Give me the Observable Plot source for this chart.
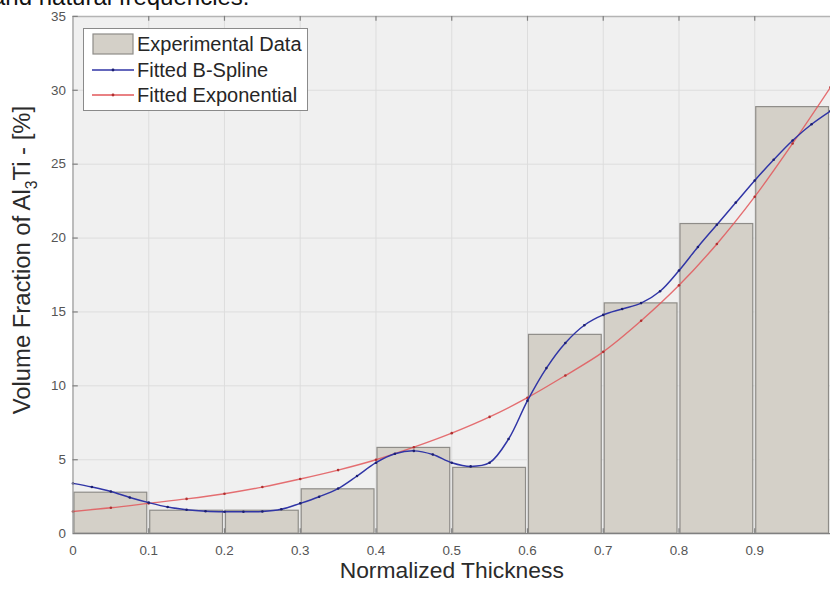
<!DOCTYPE html>
<html>
<head>
<meta charset="utf-8">
<script src="https://cdn.jsdelivr.net/npm/d3@7"></script>
<script src="https://cdn.jsdelivr.net/npm/@observablehq/plot@0.6"></script>
<style>
  html, body { margin: 0; padding: 0; background: #fff; overflow: hidden; }
  #wrap { position: relative; width: 830px; height: 589px; overflow: hidden; font-family: "Liberation Sans", Arial, sans-serif; }
  #toptext { position: absolute; left: -8px; top: -17px; font-size: 24px; color: #111; white-space: nowrap; z-index: 2; }
  #legend { position: absolute; left: 83px; top: 28px; width: 223px; height: 81px; background: #fff; border: 1px solid #8a8a8a; font-size: 20px; color: #262626; z-index: 3; }
  #legend .row { position: absolute; left: 0; height: 24px; width: 100%; }
  #legend .sw { position: absolute; left: 8px; top: 0; width: 42px; height: 24px; }
  #legend .lab { position: absolute; left: 53px; top: 0; line-height: 24px; white-space: nowrap; }
  #chart { position: absolute; left: 0; top: 0; }
</style>
</head>
<body>
<div id="wrap">
  <div id="toptext">and natural frequencies.</div>
  <div id="chart"></div>
  <div id="legend"></div>
</div>
<script>
// ---- data ----
const binStart = [0, 0.1, 0.2, 0.3, 0.4, 0.5, 0.6, 0.7, 0.8, 0.9];
const binEnd   = [0.1, 0.2, 0.3, 0.4, 0.5, 0.6, 0.7, 0.8, 0.9, 1.0];
const binValue = [2.77, 1.55, 1.55, 3.0, 5.8, 4.45, 13.45, 15.58, 20.95, 28.86];

const splineX = [0, 0.025, 0.05, 0.075, 0.1, 0.125, 0.15, 0.175, 0.2, 0.225, 0.25, 0.275, 0.3, 0.325, 0.35, 0.375, 0.4, 0.425, 0.45, 0.475, 0.5, 0.525, 0.55, 0.575, 0.6, 0.625, 0.65, 0.675, 0.7, 0.725, 0.75, 0.775, 0.8, 0.825, 0.85, 0.875, 0.9, 0.925, 0.95, 0.975, 1.0];
const splineY = [3.4, 3.15, 2.85, 2.45, 2.1, 1.8, 1.62, 1.52, 1.48, 1.48, 1.5, 1.65, 2.05, 2.5, 3.05, 3.9, 4.8, 5.4, 5.6, 5.35, 4.8, 4.55, 4.8, 6.4, 9.0, 11.2, 12.9, 14.1, 14.8, 15.2, 15.6, 16.4, 17.8, 19.4, 20.9, 22.4, 23.9, 25.3, 26.6, 27.7, 28.6];

const expX = [0, 0.05, 0.1, 0.15, 0.2, 0.25, 0.3, 0.35, 0.4, 0.45, 0.5, 0.55, 0.6, 0.65, 0.7, 0.75, 0.8, 0.85, 0.9, 0.95, 1.0];
const expY = [1.5, 1.75, 2.05, 2.35, 2.7, 3.15, 3.7, 4.3, 5.0, 5.85, 6.8, 7.9, 9.2, 10.7, 12.3, 14.4, 16.8, 19.6, 22.8, 26.4, 30.2];

const xTicks = [0, 0.1, 0.2, 0.3, 0.4, 0.5, 0.6, 0.7, 0.8, 0.9];
const xTickLabels = ["0", "0.1", "0.2", "0.3", "0.4", "0.5", "0.6", "0.7", "0.8", "0.9"];
const yTicks = [0, 5, 10, 15, 20, 25, 30, 35];
const yTickLabels = ["0", "5", "10", "15", "20", "25", "30", "35"];

const seriesNames = ["Experimental Data", "Fitted B-Spline", "Fitted Exponential"];
const xLabel = "Normalized Thickness";

// ---- tables ----
const bars = binStart.map((s, i) => ({x1: s, x2: binEnd[i], y: binValue[i]}));
const spline = splineX.map((x, i) => ({x, y: splineY[i]}));
const expo = expX.map((x, i) => ({x, y: expY[i]}));

const barFill = "#d4d0c8", barStroke = "#8e8c88";
const blue = "#3035a6", red = "#e2575a";
const axisGray = "#9c9c9c";

const chart = Plot.plot({
  width: 836,
  height: 589,
  marginLeft: 73,
  marginRight: 0,
  marginTop: 16,
  marginBottom: 52,
  x: {domain: [0, 1]},
  y: {domain: [0, 35]},
  style: {fontFamily: "'Liberation Sans', Arial, sans-serif", background: "transparent", color: "#555"},
  marks: [
    Plot.frame({fill: "#f0f0f0", stroke: null}),
    Plot.ruleX(xTicks.slice(1), {stroke: "#dddddd", strokeWidth: 1}),
    Plot.ruleY(yTicks.slice(1, -1), {stroke: "#dddddd", strokeWidth: 1}),
    Plot.rectY(bars, {x1: "x1", x2: "x2", y: "y", fill: barFill, stroke: barStroke, strokeWidth: 1.2, insetLeft: 1.5, insetRight: 1.5}),
    Plot.line(expo, {x: "x", y: "y", stroke: red, strokeWidth: 1.4, strokeOpacity: 0.85, curve: "catmull-rom"}),
    Plot.dot(expo, {x: "x", y: "y", r: 1.3, fill: "#b03030", stroke: null}),
    Plot.line(spline, {x: "x", y: "y", stroke: blue, strokeWidth: 1.5, curve: "catmull-rom"}),
    Plot.dot(spline, {x: "x", y: "y", r: 1.3, fill: "#1c1f70", stroke: null}),
    // axes frame lines
    Plot.ruleX([0], {stroke: axisGray, strokeWidth: 1.3}),
    Plot.ruleY([0], {stroke: "#808080", strokeWidth: 1.3}),
    Plot.ruleY([35], {stroke: "#b4b4b4", strokeWidth: 1.5}),
    // inward ticks
    Plot.ruleX(xTicks.slice(1), {x: d => d, y1: 0, y2: 0.33, stroke: "#808080", strokeWidth: 1.2}),
    Plot.ruleX(xTicks.slice(1), {x: d => d, y1: 35, y2: 34.67, stroke: "#808080", strokeWidth: 1.2}),
    Plot.ruleY(yTicks.slice(1), {y: d => d, x1: 0, x2: 0.007, stroke: "#808080", strokeWidth: 1.2}),
    Plot.axisX({ticks: xTicks, tickFormat: (d, i) => xTickLabels[i], tickSize: 0, tickPadding: 12, fontSize: 13.5, label: null}),
    Plot.axisY({ticks: yTicks, tickFormat: (d, i) => yTickLabels[i], tickSize: 0, tickPadding: 7, fontSize: 13.5, label: null}),
    Plot.text([xLabel], {frameAnchor: "bottom", dy: 37, fontSize: 23, fill: "#2b2b2b", textAnchor: "middle", lineAnchor: "middle"}),
    Plot.text(["YLABEL"], {frameAnchor: "left", dx: -51, dy: -15, rotate: -90, fontSize: 24, fill: "#2b2b2b", textAnchor: "middle", lineAnchor: "middle"})
  ]
});

document.getElementById("chart").appendChild(chart);

// y-axis label with subscript
chart.querySelectorAll("text").forEach(t => {
  if (t.textContent === "YLABEL") {
    t.innerHTML = 'Volume Fraction of Al<tspan dy="7" font-size="16">3</tspan><tspan dy="-7">Ti - [%]</tspan>';
  }
});

// legend (HTML overlay)
const legend = document.getElementById("legend");
const rowsTop = [3, 29, 54];
seriesNames.forEach((name, i) => {
  const row = document.createElement("div");
  row.className = "row";
  row.style.top = rowsTop[i] + "px";
  let sw;
  if (i === 0) {
    sw = `<svg class="sw" width="42" height="24"><rect x="1" y="2" width="40" height="20" fill="${barFill}" stroke="${barStroke}" stroke-width="1.2"/></svg>`;
  } else {
    const c = i === 1 ? blue : red;
    const dc = i === 1 ? "#1c1f70" : "#b03030";
    sw = `<svg class="sw" width="42" height="24"><line x1="0" x2="42" y1="12" y2="12" stroke="${c}" stroke-width="1.4"/><circle cx="21" cy="12" r="1.4" fill="${dc}"/></svg>`;
  }
  row.innerHTML = sw + `<span class="lab">${name}</span>`;
  legend.appendChild(row);
});
</script>
</body>
</html>
